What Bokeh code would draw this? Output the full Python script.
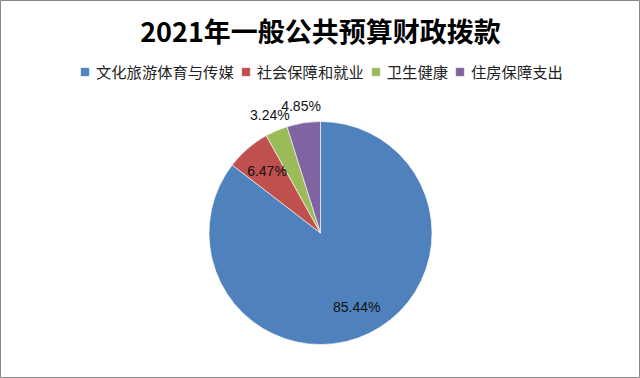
import numpy as np
from bokeh.plotting import figure
from bokeh.models import ColumnDataSource, Label, Legend, LegendItem, Range1d
from bokeh.core.properties import value
from bokeh.embed import file_html
from bokeh.resources import INLINE

title_text = "2021年一般公共预算财政拨款"
categories = ["文化旅游体育与传媒", "社会保障和就业", "卫生健康", "住房保障支出"]
shares = [85.44, 6.47, 3.24, 4.85]
colors = ["#4F81BD", "#C0504D", "#9BBB59", "#8064A2"]

W, H = 640, 378
CX, CY, R = 320, H - 232.5, 111.5
CJK = "Noto Sans CJK SC"

frac = np.array(shares) / sum(shares)
cum = np.concatenate([[0.0], np.cumsum(frac)])
start = np.pi / 2 - 2 * np.pi * cum[:-1]
end = np.pi / 2 - 2 * np.pi * cum[1:]
mid = (start + end) / 2
label_r = np.where(frac > 0.05, 0.735 * R, 1.15 * R)

src = ColumnDataSource(dict(
    cat=categories, share=shares, color=colors,
    start=start, end=end,
    lx=CX + label_r * np.cos(mid), ly=CY + label_r * np.sin(mid),
    label=[f"{s:.2f}%" for s in shares],
))

p = figure(width=W, height=H, output_backend="svg", toolbar_location=None,
           x_range=Range1d(0, W), y_range=Range1d(0, H),
           min_border=0, outline_line_color="#868686", outline_line_width=1,
           background_fill_color="white", border_fill_color="white")
p.axis.visible = False
p.grid.visible = False

items = []
for i, c in enumerate(categories):
    r = p.wedge(x=CX, y=CY, radius=R, start_angle=start[i], end_angle=end[i],
                direction="clock", fill_color=colors[i], line_color="white",
                line_width=0.6)
    items.append(LegendItem(label=c, renderers=[r]))

p.text(x="lx", y="ly", text="label", source=src, text_align="center",
       text_baseline="middle", text_font=value("Liberation Sans"),
       text_font_size="14px", text_color="#111111")

p.add_layout(Label(x=W / 2, y=H - 29.5, x_units="screen", y_units="screen",
                   text=title_text, text_align="center", text_baseline="middle",
                   text_font=CJK, text_font_size="27px", text_font_style="bold",
                   text_color="#000000"))

legend = Legend(items=items, orientation="horizontal", location=(79, 296),
                glyph_width=11, glyph_height=11, label_standoff=6, spacing=6,
                padding=0, margin=0, border_line_color=None,
                background_fill_alpha=0, label_text_font=CJK,
                label_text_font_size="15.3px", label_text_color="#222222",
                label_height=15)
p.add_layout(legend, "center")

open("out.html", "w").write(file_html(p, INLINE))
